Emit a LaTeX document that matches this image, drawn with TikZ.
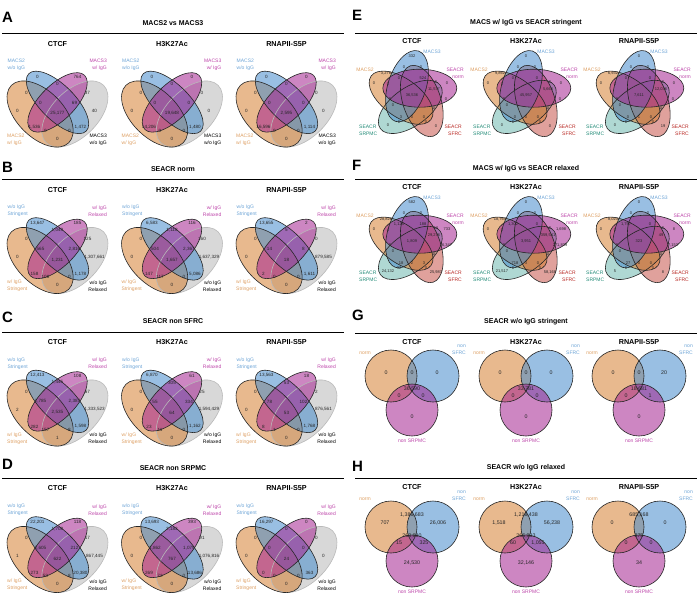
\documentclass[tikz,border=0pt]{standalone}
\usepackage{fontspec}
\setmainfont{Liberation Sans}
\definecolor{cor}{RGB}{214,128,50}
\definecolor{cbl}{RGB}{70,140,205}
\definecolor{cpu}{RGB}{165,35,145}
\definecolor{cgr}{RGB}{170,170,170}
\definecolor{cte}{RGB}{110,185,175}
\definecolor{cre}{RGB}{200,85,75}
\definecolor{lor}{RGB}{222,160,100}
\definecolor{lbl}{RGB}{110,165,215}
\definecolor{lpu}{RGB}{190,70,170}
\definecolor{lte}{RGB}{35,140,120}
\definecolor{lre}{RGB}{185,40,35}
\tikzset{
 vf/.style={fill opacity=0.55},
 vl/.style={draw=black!85, line width=0.6pt},
 num/.style={font=\fontsize{4.6}{5}\selectfont, inner sep=0pt, text=black!85},
 numS/.style={font=\fontsize{4}{4.5}\selectfont, inner sep=0pt, text=black!85},
 numL/.style={font=\fontsize{5.3}{6}\selectfont, inner sep=0pt, text=black!85},
 lab/.style={font=\fontsize{5}{7}\selectfont, inner sep=0pt},
 subt/.style={font=\bfseries\fontsize{7.2}{8}\selectfont, inner sep=0pt},
 ttl/.style={font=\bfseries\fontsize{7}{8}\selectfont, inner sep=0pt},
 plet/.style={font=\bfseries\fontsize{15}{16}\selectfont, inner sep=0pt, anchor=west},
 hrule/.style={line width=0.8pt},
}
% positions of region counts
\def\qxs{{-20,20,0,-31,30,-17,17,-40,37,0,-23,23,-12,12,0}}
\def\qys{{-34,-34,-27,-18,-18,-8,-8,0,0,3,17,17,20,20,28}}
\def\pxs{{0,-26,-8,9,-13,11,-38,35,-24,24,22,0,-22,-19,34,22,-11,0,12,-24,24,-13,14}}
\def\pys{{-40,-23,-29,-29,-18,-18,-13,-13,-12,-14,-7,-1,3,9,3,12,21,21,21,29,30,26,26}}
\def\gxs{{-26,0,25,0,-13,11,0}}
\def\gys{{-3,-3,-3,13,20,20,41}}
\def\hxs{{-27,0,26,0,-13,12,0}}
\def\hys{{-4,-12,-4,9,16,16,36}}

\newcommand\quadvenn[8]{%
 \fill[cgr, fill opacity=0.45, rotate around={45:(#2+17.4,#3+3.5)}] (#2+17.4,#3+3.5) ellipse (40.6pt and 23.2pt);
 \fill[cor, vf, rotate around={135:(#2-17.4,#3+3.5)}] (#2-17.4,#3+3.5) ellipse (40.6pt and 23.2pt);
 \fill[cbl, vf, rotate around={135:(#2,#3-8.1)}] (#2,#3-8.1) ellipse (40.6pt and 17.4pt);
 \fill[cpu, vf, rotate around={45:(#2,#3-8.1)}] (#2,#3-8.1) ellipse (38.3pt and 17.4pt);
 \draw[gray!55, line width=0.6pt, rotate around={45:(#2+17.4,#3+3.5)}] (#2+17.4,#3+3.5) ellipse (40.6pt and 23.2pt);
 \draw[vl, rotate around={135:(#2-17.4,#3+3.5)}] (#2-17.4,#3+3.5) ellipse (40.6pt and 23.2pt);
 \draw[vl, rotate around={135:(#2,#3-8.1)}] (#2,#3-8.1) ellipse (40.6pt and 17.4pt);
 \draw[vl, rotate around={45:(#2,#3-8.1)}] (#2,#3-8.1) ellipse (38.3pt and 17.4pt);
 \node[lab, text=lbl, align=left, anchor=west] (#1-tl) at (#2-50,#3-46) {#4};
 \node[lab, text=lpu, align=right, anchor=east] (#1-tr) at (#2+49.5,#3-46) {#5};
 \node[lab, text=lor, align=left, anchor=west] (#1-bl) at (#2-50.5,#3+29) {#6};
 \node[lab, text=black, align=right, anchor=east] (#1-br) at (#2+49.5,#3+29) {#7};
 \foreach \v [count=\i] in {#8} {
   \pgfmathsetmacro\dx{\qxs[\i-1]}
   \pgfmathsetmacro\dy{\qys[\i-1]}
   \pgfmathsetmacro\xx{#2+(\dx)}
   \pgfmathsetmacro\yy{#3+(\dy)}
   \node[num] (#1-n\i) at (\xx,\yy) {\v};
 }
}

\newcommand\pentvenn[4]{%
 \fill[cte, vf, rotate around={36:(#2-1.7,#3+10.9)}] (#2-1.7,#3+10.9) ellipse (37pt and 19pt);
 \fill[cre, vf, rotate around={108:(#2+9.8,#3+5)}] (#2+9.8,#3+5) ellipse (37pt and 19pt);
 \fill[cor, vf, rotate around={144:(#2-10.9,#3+1.7)}] (#2-10.9,#3+1.7) ellipse (37pt and 19pt);
 \fill[cbl, vf, rotate around={72:(#2-5,#3-9.8)}] (#2-5,#3-9.8) ellipse (37pt and 19pt);
 \fill[cpu, vf] (#2+7.8,#3-7.8) ellipse (37pt and 19pt);
 \draw[vl, rotate around={36:(#2-1.7,#3+10.9)}] (#2-1.7,#3+10.9) ellipse (37pt and 19pt);
 \draw[vl, rotate around={108:(#2+9.8,#3+5)}] (#2+9.8,#3+5) ellipse (37pt and 19pt);
 \draw[vl, rotate around={144:(#2-10.9,#3+1.7)}] (#2-10.9,#3+1.7) ellipse (37pt and 19pt);
 \draw[vl, rotate around={72:(#2-5,#3-9.8)}] (#2-5,#3-9.8) ellipse (37pt and 19pt);
 \draw[vl] (#2+7.8,#3-7.8) ellipse (37pt and 19pt);
 \node[lab, text=lbl] (#1-m3) at (#2+20,#3-44) {MACS3};
 \node[lab, text=lor] (#1-m2) at (#2-47,#3-26) {MACS2};
 \node[lab, text=lpu, align=right, anchor=east] (#1-sn) at (#2+52,#3-22.5) {SEACR\\norm};
 \node[lab, text=lte, align=left, anchor=west] (#1-sp) at (#2-53,#3+34.5) {SEACR\\SRPMC};
 \node[lab, text=lre, align=right, anchor=east] (#1-sf) at (#2+50,#3+34.5) {SEACR\\SFRC};
 \foreach \v [count=\i] in {#4} {
   \pgfmathsetmacro\dx{\pxs[\i-1]}
   \pgfmathsetmacro\dy{\pys[\i-1]}
   \pgfmathsetmacro\xx{#2+(\dx)}
   \pgfmathsetmacro\yy{#3+(\dy)}
   \node[numS] (#1-n\i) at (\xx,\yy) {\v};
 }
}

\newcommand\trivenn[7]{%
 \fill[cor, vf] (#2-21,#3) circle (26pt);
 \fill[cbl, vf] (#2+21,#3) circle (26pt);
 \fill[cpu, vf] (#2,#3+34) circle (26pt);
 \draw[vl] (#2-21,#3) circle (26pt);
 \draw[vl] (#2+21,#3) circle (26pt);
 \draw[vl] (#2,#3+34) circle (26pt);
 \node[lab, text=lor] (#1-no) at (#2-47,#4) {norm};
 \node[lab, text=lbl, align=right, anchor=east] (#1-sf) at (#2+54,#4-3.5) {non\\SFRC};
 \node[lab, text=lpu] (#1-sp) at (#2,#3+65) {non SRPMC};
 \foreach \v [count=\i] in {#7} {
   \pgfmathsetmacro\dx{#5[\i-1]}
   \pgfmathsetmacro\dy{#6[\i-1]}
   \pgfmathsetmacro\xx{#2+(\dx)}
   \pgfmathsetmacro\yy{#3+(\dy)}
   \node[numL] (#1-n\i) at (\xx,\yy) {\v};
 }
}

\newcommand\subs[5]{%
 \node[subt] (#1-1) at (#3,#2) {CTCF};
 \node[subt] (#1-2) at (#4,#2) {H3K27Ac};
 \node[subt] (#1-3) at (#5,#2) {RNAPII-S5P};
}

\begin{document}
\begin{tikzpicture}[x=1pt,y=-1pt]
\useasboundingbox (0,0) rectangle (699,603);
\fill[white] (0,0) rectangle (699,603);

% ---------- headers left ----------
\node[plet] (la) at (2,17) {A};
\node[ttl] (ta) at (173,23) {MACS2 vs MACS3};
\draw[hrule] (2,33) -- (344,33);
\subs{sa}{44}{57.5}{172}{286.5}

\node[plet] (lb) at (2,167) {B};
\node[ttl] (tb) at (173,169) {SEACR norm};
\draw[hrule] (2,179) -- (344,179);
\subs{sb}{190}{57.5}{172}{286.5}

\node[plet] (lc) at (2,317) {C};
\node[ttl] (tc) at (173,321) {SEACR non SFRC};
\draw[hrule] (2,332) -- (344,332);
\subs{sc}{342}{57.5}{172}{286.5}

\node[plet] (ld) at (2,464) {D};
\node[ttl] (td) at (173,468) {SEACR non SRPMC};
\draw[hrule] (2,478) -- (344,478);
\subs{sd}{488}{57.5}{172}{286.5}

% ---------- headers right ----------
\node[plet] (le) at (352,15) {E};
\node[ttl] (te) at (526,23) {MACS w/ IgG vs SEACR stringent};
\draw[hrule] (355,33) -- (697,33);
\subs{se}{41}{412}{526}{639}

\node[plet] (lf) at (352,165) {F};
\node[ttl] (tf) at (526,169) {MACS w/ IgG vs SEACR relaxed};
\draw[hrule] (355,179) -- (697,179);
\subs{sf}{187}{412}{526}{639}

\node[plet] (lg) at (352,315) {G};
\node[ttl] (tg) at (526,322) {SEACR w/o IgG stringent};
\draw[hrule] (355,333) -- (697,333);
\subs{sg}{342}{412}{526}{639}

\node[plet] (lh) at (352,466) {H};
\node[ttl] (th) at (526,468) {SEACR w/o IgG relaxed};
\draw[hrule] (355,478) -- (697,478);
\subs{sh}{487}{412}{526}{639}

% ---------- A ----------
\quadvenn{a1}{57.5}{110.5}{MACS2\\w/o IgG}{MACS3\\w/ IgG}{MACS2\\w/ IgG}{MACS3\\w/o IgG}{{0},{764},{0},{0},{37},{0},{69},{0},{40},{25,177},{1,536},{1,472},{0},{0},{0}}
\quadvenn{a2}{172}{110.5}{MACS2\\w/o IgG}{MACS3\\w/ IgG}{MACS2\\w/ IgG}{MACS3\\w/o IgG}{{0},{0},{0},{0},{0},{0},{0},{0},{0},{19,648},{14,206},{1,480},{0},{0},{0}}
\quadvenn{a3}{286.5}{110.5}{MACS2\\w/o IgG}{MACS3\\w/ IgG}{MACS2\\w/ IgG}{MACS3\\w/o IgG}{{0},{0},{0},{0},{0},{0},{0},{0},{0},{2,595},{16,596},{1,114},{0},{0},{0}}
% ---------- B ----------
\quadvenn{b1}{57.5}{257}{w/o IgG\\Stringent}{w/ IgG\\Relaxed}{w/ IgG\\Stringent}{w/o IgG\\Relaxed}{{13,647},{185},{1,049},{0},{125},{565},{2,816},{0},{1,307,661},{1,231},{158},{1,178},{108},{0},{0}}
\quadvenn{b2}{172}{257}{w/o IgG\\Stringent}{w/ IgG\\Relaxed}{w/ IgG\\Stringent}{w/o IgG\\Relaxed}{{6,583},{116},{1,118},{0},{160},{504},{2,367},{0},{1,637,329},{1,657},{147},{5,086},{117},{0},{0}}
\quadvenn{b3}{286.5}{257}{w/o IgG\\Stringent}{w/ IgG\\Relaxed}{w/ IgG\\Stringent}{w/o IgG\\Relaxed}{{13,655},{2},{5},{0},{0},{14},{8},{0},{879,585},{18},{2},{1,611},{0},{0},{0}}
% ---------- C ----------
\quadvenn{c1}{57.5}{409.5}{w/o IgG\\Stringent}{w/ IgG\\Relaxed}{w/ IgG\\Stringent}{w/o IgG\\Relaxed}{{12,413},{108},{1,445},{0},{67},{2,785},{2,387},{2},{1,333,523},{2,535},{282},{1,598},{157},{8},{1}}
\quadvenn{c2}{172}{409.5}{w/o IgG\\Stringent}{w/ IgG\\Relaxed}{w/ IgG\\Stringent}{w/o IgG\\Relaxed}{{6,870},{61},{305},{0},{25},{55},{334},{0},{1,594,429},{64},{23},{1,162},{11},{0},{0}}
\quadvenn{c3}{286.5}{409.5}{w/o IgG\\Stringent}{w/ IgG\\Relaxed}{w/ IgG\\Stringent}{w/o IgG\\Relaxed}{{13,563},{18},{53},{0},{2},{78},{102},{0},{876,561},{53},{8},{1,768},{1},{0},{0}}
% ---------- D ----------
\quadvenn{d1}{57.5}{556}{w/o IgG\\Stringent}{w/ IgG\\Relaxed}{w/ IgG\\Stringent}{w/o IgG\\Relaxed}{{22,201},{118},{1,708},{0},{17},{2,605},{212},{1},{867,445},{622},{273},{20,380},{53},{8},{0}}
\quadvenn{d2}{172}{556}{w/o IgG\\Stringent}{w/ IgG\\Relaxed}{w/ IgG\\Stringent}{w/o IgG\\Relaxed}{{13,693},{393},{2,183},{0},{91},{1,862},{1,079},{0},{1,076,816},{767},{269},{13,686},{72},{0},{0}}
\quadvenn{d3}{286.5}{556}{w/o IgG\\Stringent}{w/ IgG\\Relaxed}{w/ IgG\\Stringent}{w/o IgG\\Relaxed}{{16,297},{0},{0},{0},{0},{0},{0},{0},{0},{24},{0},{363},{0},{0},{0}}

% ---------- E ----------
\pentvenn{e1}{412}{96}{{332},{3,276},{0},{0},{0},{524},{0},{0},{0},{0},{11,577},{36,536},{0},{0},{0},{0},{3},{0},{0},{0},{0},{0},{0}}
\pentvenn{e2}{526}{96}{{0},{9,862},{0},{0},{0},{0},{0},{0},{0},{0},{5,666},{45,957},{0},{0},{0},{0},{0},{0},{0},{0},{0},{0},{0}}
\pentvenn{e3}{639}{96}{{0},{6,932},{0},{0},{0},{0},{0},{0},{0},{0},{12,036},{7,611},{0},{0},{0},{0},{0},{1},{0},{0},{19},{0},{0}}
% ---------- F ----------
\pentvenn{f1}{412}{242}{{582},{28,826},{0},{0},{1,125},{188},{0},{733},{4},{16},{29,276},{1,809},{0},{0},{26,347},{0},{18},{2},{3},{24,132},{25,987},{32},{0}}
\pentvenn{f2}{526}{242}{{0},{18,767},{0},{0},{1,302},{0},{0},{1,698},{0},{0},{359,541},{3,951},{0},{0},{271,839},{0},{718},{3},{0},{21,517},{58,168},{0},{0}}
\pentvenn{f3}{639}{242}{{0},{8,023},{0},{0},{1,757},{0},{0},{8},{0},{0},{49},{323},{0},{0},{7,153},{0},{27},{0},{0},{5},{8},{0},{0}}

% ---------- G ----------
\trivenn{g1}{412}{376}{353}{\gxs}{\gys}{{0},{0},{0},{36,590},{0},{0},{0}}
\trivenn{g2}{526}{376}{353}{\gxs}{\gys}{{0},{0},{0},{33,781},{0},{0},{0}}
\trivenn{g3}{639}{376}{353}{\gxs}{\gys}{{0},{0},{20},{18,681},{0},{1},{0}}
% ---------- H ----------
\trivenn{h1}{412}{527}{499}{\hxs}{\hys}{{707},{1,386,683},{26,006},{263,680},{15},{325},{24,530}}
\trivenn{h2}{526}{527}{499}{\hxs}{\hys}{{1,518},{1,218,438},{56,238},{366,933},{60},{1,055},{32,146}}
\trivenn{h3}{639}{527}{499}{\hxs}{\hys}{{0},{685,168},{0},{375},{0},{0},{34}}
\end{tikzpicture}
\end{document}
